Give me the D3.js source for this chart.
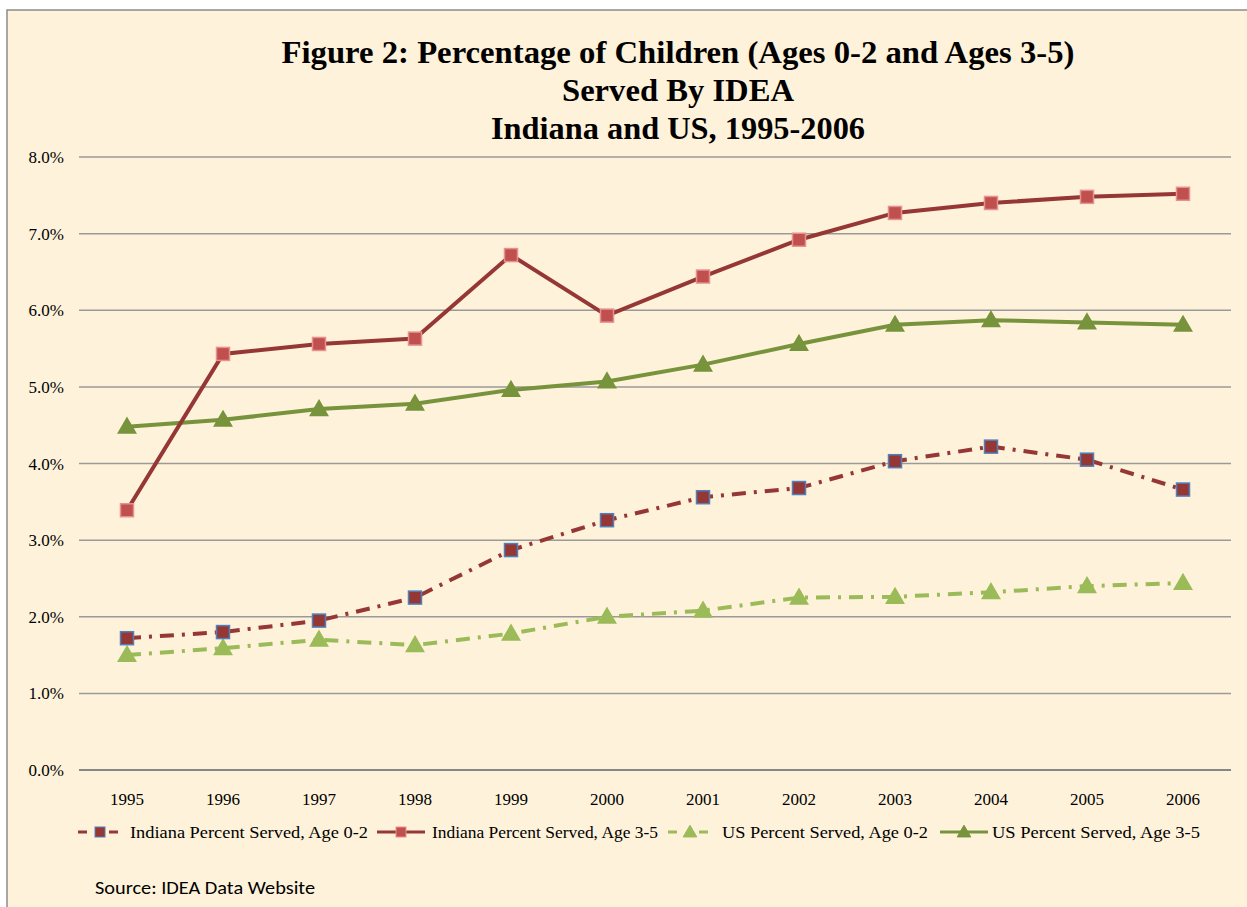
<!DOCTYPE html>
<html>
<head>
<meta charset="utf-8">
<script src="https://cdn.jsdelivr.net/npm/d3@7"></script>
<style>
  body { margin: 0; background: #fff; }
  text { font-family: "Liberation Serif", "Times New Roman", serif; }
</style>
</head>
<body>
<div id="chart"></div>
<script>
var years = ["1995","1996","1997","1998","1999","2000","2001","2002","2003","2004","2005","2006"];
var indiana02 = [1.72,1.80,1.95,2.25,2.87,3.26,3.56,3.68,4.03,4.22,4.05,3.66];
var indiana35 = [3.39,5.43,5.56,5.63,6.72,5.93,6.44,6.92,7.27,7.40,7.48,7.52];
var us02 = [1.50,1.59,1.70,1.63,1.78,2.00,2.08,2.25,2.26,2.32,2.40,2.44];
var us35 = [4.48,4.57,4.71,4.78,4.96,5.07,5.29,5.56,5.81,5.87,5.84,5.81];
var yTicks = [0,1,2,3,4,5,6,7,8];
var titleLines = ["Figure 2: Percentage of Children (Ages 0-2 and Ages 3-5)", "Served By IDEA", "Indiana and US, 1995-2006"];

var series = [
  {name: "Indiana Percent Served, Age  0-2", values: indiana02, line: "#953735", fill: "#953735", stroke: "#4F81BD", dash: "14,8,3,8", shape: "square"},
  {name: "Indiana Percent Served, Age  3-5", values: indiana35, line: "#953735", fill: "#C0504D", stroke: "#E6918F", dash: null, shape: "square"},
  {name: "US Percent Served, Age  0-2", values: us02, line: "#9BBB59", fill: "#9BBB59", stroke: "#9BBB59", dash: "14,8,3,8", shape: "triangle"},
  {name: "US Percent Served, Age  3-5", values: us35, line: "#77933C", fill: "#77933C", stroke: "#77933C", dash: null, shape: "triangle"}
];

var width = 1247, height = 907;
var svg = d3.select("#chart").append("svg")
  .attr("width", width)
  .attr("height", height);

// outer chart area
svg.append("rect")
  .attr("x", 7).attr("y", 10)
  .attr("width", width).attr("height", height)
  .attr("fill", "#FEF2DA")
  .attr("stroke", "#8c8c8c")
  .attr("stroke-width", 1.5);

var x = d3.scalePoint().domain(years).range([127, 1183]);
var y = d3.scaleLinear().domain([0, 8]).range([770, 157]);

// title
svg.append("g").selectAll("text")
  .data(titleLines)
  .enter().append("text")
  .attr("x", 678)
  .attr("y", function(d, i) { return 63 + i * 38; })
  .attr("text-anchor", "middle")
  .style("font-size", "31px")
  .style("font-weight", "bold")
  .attr("textLength", function(d, i) { return [793, 232, 374][i]; })
  .attr("lengthAdjust", "spacingAndGlyphs")
  .text(function(d) { return d; });

// gridlines
svg.append("g").selectAll("line")
  .data(yTicks)
  .enter().append("line")
  .attr("x1", 79).attr("x2", 1231)
  .attr("y1", function(d) { return y(d); })
  .attr("y2", function(d) { return y(d); })
  .attr("stroke", function(d) { return d == 0 ? "#868686" : "#9a9a9a"; })
  .attr("stroke-width", function(d) { return d == 0 ? 2 : 1.5; });

// y axis labels
svg.append("g").selectAll("text")
  .data(yTicks)
  .enter().append("text")
  .attr("x", 64)
  .attr("y", function(d) { return y(d) + 6; })
  .attr("text-anchor", "end")
  .style("font-size", "17px")
  .text(function(d) { return d.toFixed(1) + "%"; });

// x axis labels
svg.append("g").selectAll("text")
  .data(years)
  .enter().append("text")
  .attr("x", function(d) { return x(d); })
  .attr("y", 805)
  .attr("text-anchor", "middle")
  .style("font-size", "17px")
  .text(function(d) { return d; });

var line = d3.line()
  .x(function(d, i) { return x(years[i]); })
  .y(function(d) { return y(d); });

var drawMarker = function(g, shape, cx, cy, s) {
  if (shape == "square") {
    g.append("rect")
      .attr("x", cx - s / 2).attr("y", cy - s / 2)
      .attr("width", s).attr("height", s);
  } else {
    g.append("path")
      .attr("d", "M" + cx + "," + (cy - s * 0.62) + "L" + (cx + s * 0.62) + "," + (cy + s * 0.45) + "L" + (cx - s * 0.62) + "," + (cy + s * 0.45) + "Z");
  }
};

var drawOrder = [2, 0, 3, 1];
drawOrder.forEach(function(k) {
  var s = series[k];
  var g = svg.append("g");
  g.append("path")
    .datum(s.values)
    .attr("d", line)
    .attr("fill", "none")
    .attr("stroke", s.line)
    .attr("stroke-width", 4)
    .attr("stroke-dasharray", s.dash);
  s.values.forEach(function(v, i) {
    var m = g.append("g")
      .attr("fill", s.fill)
      .attr("stroke", s.stroke)
      .attr("stroke-width", 1.5);
    drawMarker(m, s.shape, x(years[i]), y(v), s.shape == "square" ? 13 : 14);
  });
});

// legend: line start, text start, text width
var legendX = [78, 377, 668, 940];
var legendText = [130, 432, 722, 992];
var legendW = [238, 226, 206, 208];
var legend = svg.append("g");
series.forEach(function(s, i) {
  var lx = legendX[i], ly = 832;
  var g = legend.append("g");
  if (s.dash) {
    g.append("line").attr("x1", lx).attr("x2", lx + 9).attr("y1", ly).attr("y2", ly)
      .attr("stroke", s.line).attr("stroke-width", 3);
    g.append("line").attr("x1", lx + 31).attr("x2", lx + 40).attr("y1", ly).attr("y2", ly)
      .attr("stroke", s.line).attr("stroke-width", 3);
  } else {
    g.append("line").attr("x1", lx).attr("x2", lx + 48).attr("y1", ly).attr("y2", ly)
      .attr("stroke", s.line).attr("stroke-width", 3);
  }
  var m = g.append("g").attr("fill", s.fill).attr("stroke", s.stroke).attr("stroke-width", 1);
  drawMarker(m, s.shape, lx + (s.dash ? 22 : 24), ly, s.shape == "square" ? 10 : 11);
  g.append("text")
    .attr("x", legendText[i])
    .attr("y", ly + 6)
    .style("font-size", "17px")
    .attr("textLength", legendW[i])
    .attr("lengthAdjust", "spacingAndGlyphs")
    .text(s.name);
});

// source note
svg.append("text")
  .attr("x", 95)
  .attr("y", 894)
  .style("font-family", "Carlito, 'Liberation Sans Narrow', 'Open Sans', sans-serif")
  .style("font-size", "18px")
  .attr("textLength", 220)
  .attr("lengthAdjust", "spacingAndGlyphs")
  .text("Source: IDEA Data Website");
</script>
</body>
</html>
